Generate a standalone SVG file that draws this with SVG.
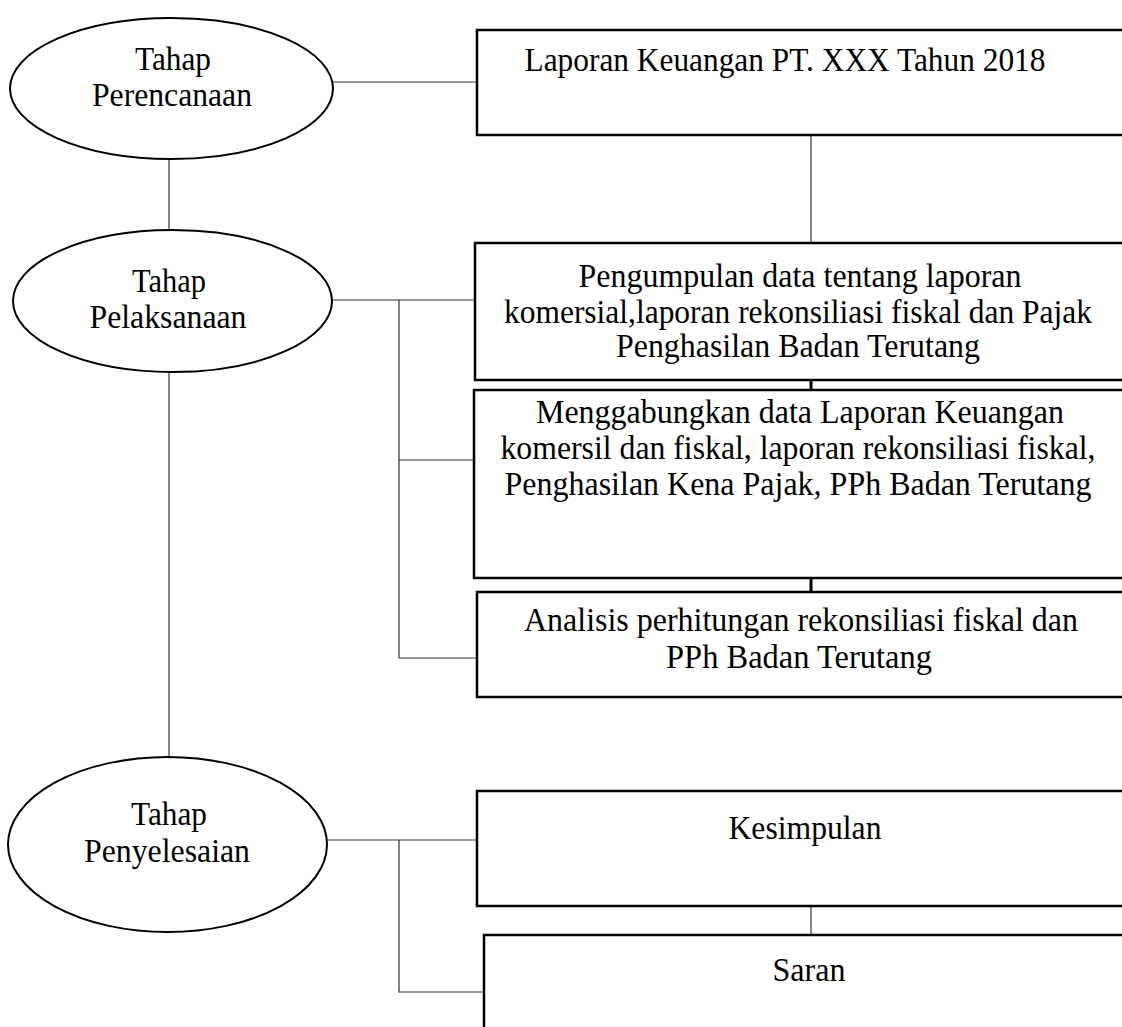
<svg xmlns="http://www.w3.org/2000/svg" width="1122" height="1027" viewBox="0 0 1122 1027">
<style>
.bg{fill:#ffffff}
.box{fill:#ffffff;stroke:#000;stroke-width:2.5}
.ell{fill:#ffffff;stroke:#000;stroke-width:2}
.ln{stroke:#333;stroke-width:1.2;fill:none}
.thk{stroke:#000;stroke-width:3;fill:none}
text{font-family:"Liberation Serif","Times New Roman",serif;font-size:33px;fill:#000;text-anchor:middle}
</style>
<rect class="bg" x="0" y="0" width="1122" height="1027"/>
<g id="connectors">
<line class="ln" x1="333" y1="82" x2="477" y2="82"/>
<line class="ln" x1="169" y1="159" x2="169" y2="230"/>
<line class="ln" x1="169" y1="372" x2="169" y2="757"/>
<line class="ln" x1="811" y1="135" x2="811" y2="243"/>
<line class="ln" x1="332" y1="300" x2="475" y2="300"/>
<polyline class="ln" points="399,300 399,658 477,658"/>
<line class="ln" x1="399" y1="460" x2="474" y2="460"/>
<line class="thk" x1="811" y1="380" x2="811" y2="390"/>
<line class="thk" x1="811" y1="578" x2="811" y2="592"/>
<line class="ln" x1="327" y1="840" x2="484" y2="840"/>
<polyline class="ln" points="399,840 399,992 484,992"/>
<line class="ln" x1="811" y1="906" x2="811" y2="935"/>
</g>
<g id="n-perencanaan">
<ellipse class="ell" cx="171.5" cy="88.5" rx="161.5" ry="70.5"/>
<text x="173" y="70" textLength="76" lengthAdjust="spacingAndGlyphs">Tahap</text>
<text x="172" y="106" textLength="160" lengthAdjust="spacingAndGlyphs">Perencanaan</text>
</g>
<g id="n-pelaksanaan">
<ellipse class="ell" cx="172.5" cy="301" rx="159.5" ry="71"/>
<text x="169" y="292" textLength="74" lengthAdjust="spacingAndGlyphs">Tahap</text>
<text x="168" y="328" textLength="157" lengthAdjust="spacingAndGlyphs">Pelaksanaan</text>
</g>
<g id="n-penyelesaian">
<ellipse class="ell" cx="167.5" cy="844.5" rx="159.5" ry="87.5"/>
<text x="169" y="825" textLength="76" lengthAdjust="spacingAndGlyphs">Tahap</text>
<text x="167" y="862" textLength="166" lengthAdjust="spacingAndGlyphs">Penyelesaian</text>
</g>
<g id="n-laporan">
<rect class="box" x="477" y="30" width="660" height="105"/>
<text x="785" y="71" textLength="521" lengthAdjust="spacingAndGlyphs">Laporan Keuangan PT. XXX Tahun 2018</text>
</g>
<g id="n-pengumpulan">
<rect class="box" x="475" y="243" width="660" height="137"/>
<text x="800" y="287" textLength="443" lengthAdjust="spacingAndGlyphs">Pengumpulan data tentang laporan</text>
<text x="798" y="323" textLength="588" lengthAdjust="spacingAndGlyphs">komersial,laporan rekonsiliasi fiskal dan Pajak</text>
<text x="798" y="357" textLength="364" lengthAdjust="spacingAndGlyphs">Penghasilan Badan Terutang</text>
</g>
<g id="n-menggabungkan">
<rect class="box" x="474" y="390" width="660" height="188"/>
<text x="800" y="423" textLength="528" lengthAdjust="spacingAndGlyphs">Menggabungkan data Laporan Keuangan</text>
<text x="798" y="459" textLength="595" lengthAdjust="spacingAndGlyphs">komersil dan fiskal, laporan rekonsiliasi fiskal,</text>
<text x="798" y="495" textLength="587" lengthAdjust="spacingAndGlyphs">Penghasilan Kena Pajak, PPh Badan Terutang</text>
</g>
<g id="n-analisis">
<rect class="box" x="477" y="592" width="660" height="105"/>
<text x="801" y="631" textLength="554" lengthAdjust="spacingAndGlyphs">Analisis perhitungan rekonsiliasi fiskal dan</text>
<text x="799" y="668" textLength="266" lengthAdjust="spacingAndGlyphs">PPh Badan Terutang</text>
</g>
<g id="n-kesimpulan">
<rect class="box" x="477" y="791" width="660" height="115"/>
<text x="805" y="839" textLength="153" lengthAdjust="spacingAndGlyphs">Kesimpulan</text>
</g>
<g id="n-saran">
<rect class="box" x="484" y="935" width="660" height="120"/>
<text x="809" y="981" textLength="73" lengthAdjust="spacingAndGlyphs">Saran</text>
</g>
</svg>
